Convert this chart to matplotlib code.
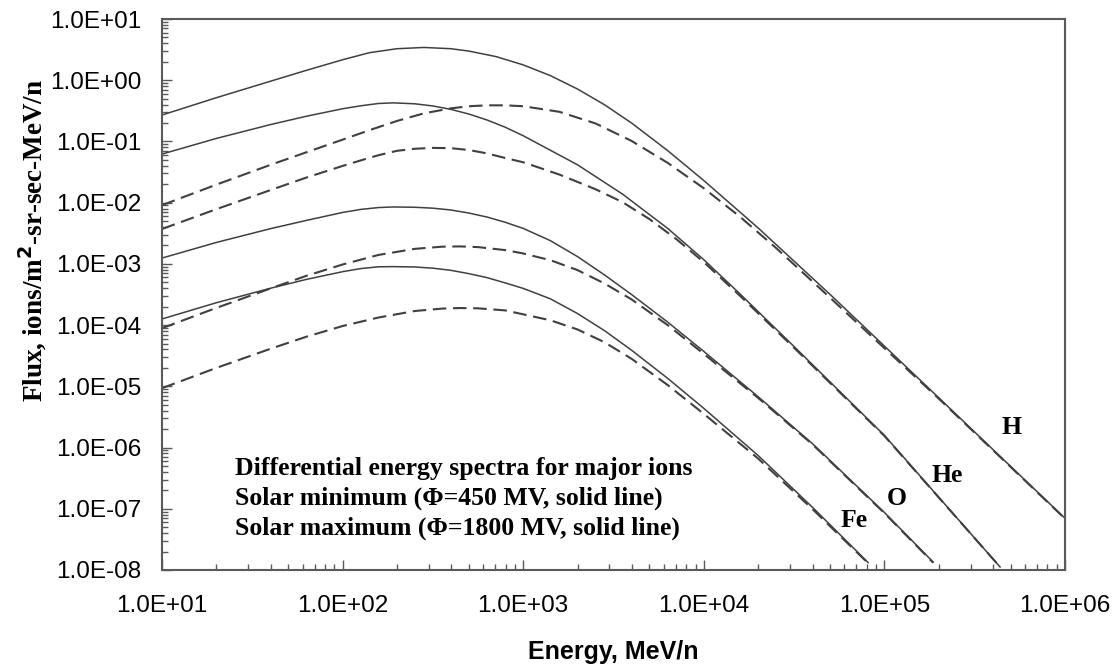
#!/usr/bin/env python3
"""Differential energy spectra of major GCR ions at solar min / max."""

import matplotlib
matplotlib.use("Agg")
import matplotlib.pyplot as plt
from matplotlib.ticker import FuncFormatter, LogLocator, NullFormatter

# values (energy in MeV/n, flux ions/m2-sr-sec-MeV/n)
h_min_e = [10, 20, 40, 63, 100, 141, 200, 282, 398, 501, 708, 1000, 1413, 1995, 2818, 3981,
           6310, 1e4, 2e4, 5.01e4, 2e5, 1e6]
h_min_f = [0.27, 0.518, 0.966, 1.45, 2.16, 2.82, 3.27, 3.43, 3.27, 2.99, 2.43, 1.78, 1.19, 0.72,
           0.398, 0.20, 0.0708, 0.023, 3.86e-3, 3.16e-4, 6.5e-6, 7.0e-8]

h_max_e = [10, 20, 40, 63, 100, 141, 200, 282, 398, 501, 631, 794, 1000, 1585, 2512, 3981,
           6310, 1e4, 1.585e4, 2.512e4, 5.01e4, 2e5, 1e6]
h_max_f = [9.1e-3, 0.0197, 0.0416, 0.0665, 0.107, 0.153, 0.216, 0.288, 0.347, 0.376, 0.389,
           0.389, 0.376, 0.305, 0.197, 0.102, 0.0447, 0.0172, 5.9e-3, 1.82e-3, 2.79e-4, 6.3e-6,
           6.9e-8]

he_min_e = [10, 20, 40, 63, 100, 126, 158, 191, 251, 316, 398, 501, 631, 794, 1000, 1995, 3548,
            6310, 1e4, 1.585e4, 3.16e4, 1e5, 4.37e5]
he_min_f = [0.0622, 0.112, 0.189, 0.258, 0.342, 0.382, 0.417, 0.427, 0.412, 0.380, 0.334, 0.280,
            0.224, 0.171, 0.124, 0.0417, 0.0138, 3.8e-3, 1.17e-3, 3.24e-4, 4.47e-5, 1.58e-6,
            1.12e-8]

he_max_e = [10, 20, 40, 63, 100, 126, 158, 200, 251, 316, 398, 501, 631, 794, 1000, 1585, 2512,
            3548, 5012, 7079, 1e4, 1.585e4, 3.16e4, 1e5, 4.37e5]
he_max_f = [3.72e-3, 7.83e-3, 0.0161, 0.0257, 0.0398, 0.049, 0.0596, 0.0703, 0.0759, 0.0785,
            0.0776, 0.0724, 0.0638, 0.0537, 0.0457, 0.0288, 0.0166, 0.0102, 5.37e-3, 2.51e-3,
            1.07e-3, 3.02e-4, 4.27e-5, 1.55e-6, 1.12e-8]

o_min_e = [10, 20, 40, 63, 100, 126, 158, 191, 251, 316, 398, 501, 631, 794, 1000, 1413, 1995,
           2818, 3981, 6310, 1e4, 2e4, 3.98e4, 1e5, 1.86e5]
o_min_f = [1.245e-3, 2.24e-3, 3.77e-3, 5.13e-3, 6.92e-3, 7.76e-3, 8.32e-3, 8.51e-3, 8.41e-3,
           8.13e-3, 7.59e-3, 6.76e-3, 5.82e-3, 4.79e-3, 3.80e-3, 2.40e-3, 1.32e-3, 6.61e-4,
           3.16e-4, 1.12e-4, 3.72e-5, 6.76e-6, 1.17e-6, 8.7e-8, 1.35e-8]

o_max_e = [10, 20, 40, 63, 100, 158, 251, 355, 447, 562, 794, 1000, 1413, 1995, 2818, 3981,
           6310, 1e4, 2e4, 3.98e4, 1e5, 1.86e5]
o_max_f = [8.91e-5, 1.91e-4, 3.98e-4, 6.38e-4, 9.77e-4, 1.40e-3, 1.76e-3, 1.91e-3, 1.93e-3,
           1.88e-3, 1.68e-3, 1.48e-3, 1.15e-3, 7.94e-4, 4.79e-4, 2.63e-4, 1.0e-4, 3.39e-5,
           6.46e-6, 1.14e-6, 8.5e-8, 1.32e-8]

fe_min_e = [10, 20, 40, 63, 100, 126, 158, 191, 251, 316, 398, 501, 631, 794, 1000, 1413, 1995,
            2818, 3981, 6310, 1e4, 2e4, 3.98e4, 8.13e4]
fe_min_f = [1.26e-4, 2.32e-4, 4.01e-4, 5.58e-4, 7.46e-4, 8.38e-4, 8.97e-4, 9.02e-4, 8.91e-4,
            8.51e-4, 7.85e-4, 6.92e-4, 5.96e-4, 4.90e-4, 3.98e-4, 2.69e-4, 1.55e-4, 8.13e-5,
            3.89e-5, 1.35e-5, 4.37e-6, 7.41e-7, 1.07e-7, 1.32e-8]

fe_max_e = [10, 20, 40, 63, 100, 158, 251, 355, 447, 562, 794, 1000, 1413, 1995, 2818, 3981,
            6310, 1e4, 2e4, 3.98e4, 8.13e4]
fe_max_f = [9.33e-6, 2.0e-5, 4.12e-5, 6.46e-5, 9.66e-5, 1.33e-4, 1.70e-4, 1.86e-4, 1.90e-4,
            1.88e-4, 1.74e-4, 1.50e-4, 1.20e-4, 8.51e-5, 5.25e-5, 2.82e-5, 1.05e-5, 3.55e-6,
            6.61e-7, 1.0e-7, 1.29e-8]

ion_labels = ["H", "He", "O", "Fe"]
note_lines = [
    "Differential energy spectra for major ions",
    "Solar minimum (\u03A6=450 MV, solid line)",
    "Solar maximum (\u03A6=1800 MV, solid line)",
]

LINE = "#404040"
SPINE = "#5a5a5a"
SERIF = ["Liberation Serif", "DejaVu Serif"]
SANS = ["Liberation Sans", "DejaVu Sans"]


def main():
    fig = plt.figure(figsize=(11.17, 6.68), dpi=100)
    ax = fig.add_axes([162 / 1117, 1 - 570 / 668, 903 / 1117, 551 / 668])

    solid = [(h_min_e, h_min_f), (he_min_e, he_min_f), (o_min_e, o_min_f), (fe_min_e, fe_min_f)]
    dashed = [(h_max_e, h_max_f), (he_max_e, he_max_f), (o_max_e, o_max_f), (fe_max_e, fe_max_f)]
    for e, f in solid:
        ax.plot(e, f, color=LINE, lw=1.1, solid_joinstyle="round")
    for e, f in dashed:
        ax.plot(e, f, color=LINE, lw=1.5, dashes=(6.5, 3.2))

    ax.set_xscale("log")
    ax.set_yscale("log")
    ax.set_xlim(10, 1e6)
    ax.set_ylim(1e-8, 10)

    fmt = FuncFormatter(lambda v, _: f"{v:.1E}")
    for axis in (ax.xaxis, ax.yaxis):
        axis.set_major_locator(LogLocator(base=10, numticks=20))
        axis.set_minor_locator(LogLocator(base=10, subs=range(2, 10), numticks=20))
        axis.set_major_formatter(fmt)
        axis.set_minor_formatter(NullFormatter())

    ax.tick_params(which="both", direction="in", color=SPINE, width=1.0,
                   top=False, right=False)
    ax.tick_params(which="major", length=7)
    ax.tick_params(which="minor", length=4.5)
    ax.tick_params(axis="y", which="major", pad=15)
    ax.tick_params(axis="x", which="major", pad=18)
    for lab in ax.get_xticklabels() + ax.get_yticklabels():
        lab.set_fontfamily(SANS)
        lab.set_fontsize(17.5)

    for sp in ax.spines.values():
        sp.set_color(SPINE)
        sp.set_linewidth(1.5)

    fig.text(613 / 1117, 1 - 652 / 668, "Energy, MeV/n", ha="center", va="center",
             fontsize=18, fontweight="bold", family=SANS)
    fig.text(33 / 1117, 1 - 240 / 668, "Flux, ions/m$^\\mathbf{2}$-sr-sec-MeV/n", rotation=90,
             ha="center", va="center", fontsize=19.5, fontweight="bold", family=SERIF)

    for i, line in enumerate(note_lines):
        ax.text(0.081, 0.185 - i * 0.0545, line, transform=ax.transAxes, ha="left",
                va="center", fontsize=18.5, fontweight="bold", family=SERIF)

    label_pos = [(0.941, 0.258), (0.870, 0.172), (0.814, 0.129), (0.766, 0.089)]
    for name, (x, y) in zip(ion_labels, label_pos):
        ax.text(x, y, name, transform=ax.transAxes, ha="center", va="center",
                fontsize=18.5, fontweight="bold", family=SERIF)

    fig.savefig("out.png", dpi=100)


if __name__ == "__main__":
    main()
